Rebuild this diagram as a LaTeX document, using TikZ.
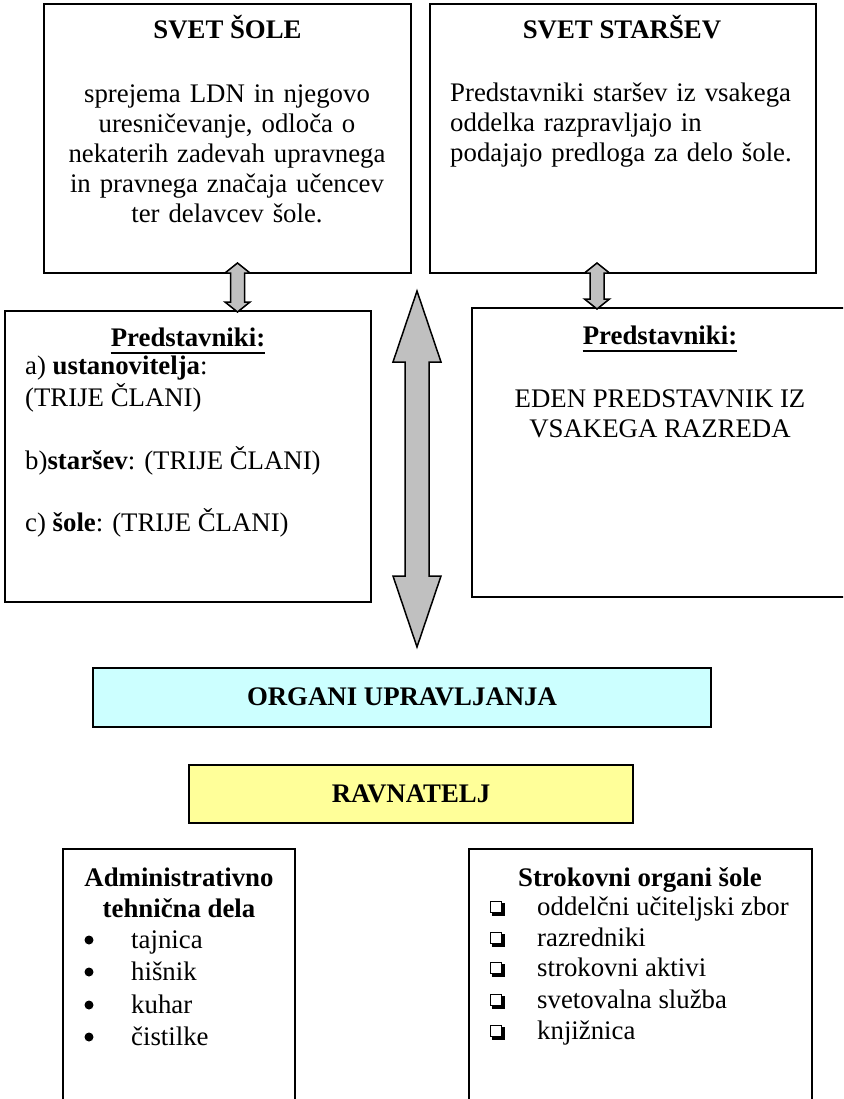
\documentclass[tikz,border=0pt]{standalone}
\usepackage{fontspec}
\setmainfont{Liberation Serif}
\usetikzlibrary{fit,calc}
\definecolor{cyanfill}{HTML}{CCFFFF}
\definecolor{yelfill}{HTML}{FFFF99}
\definecolor{arrgray}{HTML}{C0C0C0}
% vertical double block arrow: #1 top tip, #2 bottom tip, #3 head half-width, #4 shaft half-width, #5 head length
\newcommand\vdarrow[5]{%
  \draw[blockarrow] let \p1=(#1), \p2=(#2) in
    (\x1,\y1) -- (\x1+#3pt,\y1-#5pt) -- (\x1+#4pt,\y1-#5pt) -- (\x1+#4pt,\y2+#5pt)
    -- (\x1+#3pt,\y2+#5pt) -- (\x1,\y2) -- (\x1-#3pt,\y2+#5pt) -- (\x1-#4pt,\y2+#5pt)
    -- (\x1-#4pt,\y1-#5pt) -- (\x1-#3pt,\y1-#5pt) -- cycle;}
\begin{document}
\begin{tikzpicture}[x=1pt,y=-1pt,
  box/.style={draw=black,line width=1.8pt,inner sep=0pt},
  txt/.style={inner sep=0pt,font=\fontsize{26.8}{30}\selectfont},
  btxt/.style={txt,font=\fontsize{26.8}{30}\selectfont\bfseries},
  blockarrow/.style={fill=arrgray,draw=black,line width=1.5pt,line join=miter},
  bul/.style={circle,fill=black,inner sep=0pt,minimum size=9pt},
  chk/.style={rectangle,draw=black,line width=1.2pt,fill=white,inner sep=0pt,minimum size=11pt},
  uline/.style={line width=1.8pt}]
\clip (0,0) rectangle (843,1099);
\fill[white] (0,0) rectangle (843,1099);

% ---- box frames
\coordinate (b1nw) at (44,4);   \coordinate (b1se) at (411,273);
\coordinate (b2nw) at (430,4);  \coordinate (b2se) at (816,273);
\coordinate (lpnw) at (5,311);  \coordinate (lpse) at (371,602);
\coordinate (rpnw) at (472,308); \coordinate (rpse) at (852,597);
\coordinate (ognw) at (93,668); \coordinate (ogse) at (711,727);
\coordinate (rvnw) at (189,765); \coordinate (rvse) at (633,823);
\coordinate (adnw) at (63,849); \coordinate (adse) at (295,1112);
\coordinate (sknw) at (469,849); \coordinate (skse) at (812,1112);

\node[box,fit=(b1nw)(b1se)] (b1) {};
\node[box,fit=(b2nw)(b2se)] (b2) {};
\node[box,fit=(lpnw)(lpse)] (lp) {};
\node[box,fit=(rpnw)(rpse)] (rp) {};
\node[box,fill=cyanfill,fit=(ognw)(ogse)] (og) {};
\node[box,fill=yelfill,fit=(rvnw)(rvse)] (rv) {};
\node[box,fit=(adnw)(adse)] (ad) {};
\node[box,fit=(sknw)(skse)] (sk) {};

% ---- SVET SOLE
\node[btxt,anchor=base] (b1h) at (227.5,39) {SVET ŠOLE};
\node[txt,text width=350pt,align=center,anchor=base] (b1t) at (227,103)
  {sprejema LDN in njegovo\\uresničevanje, odloča o\\nekaterih zadevah upravnega\\in pravnega značaja učencev\\ter delavcev šole.};

% ---- SVET STARSEV
\node[btxt,anchor=base] (b2h) at (622,39) {SVET STARŠEV};
\node[txt,text width=360pt,align=left,anchor=base west] (b2t) at (450,102)
  {Predstavniki staršev iz vsakega\\oddelka razpravljajo in\\podajajo predloga za delo šole.};

% ---- left Predstavniki
\node[btxt,anchor=base] (lph) at (188,346) {Predstavniki:};
\draw[uline] ([yshift=-7pt]lph.base west) -- ([yshift=-7pt]lph.base east);
\node[txt,anchor=base west] (lpa) at (25,374) {a) \textbf{ustanovitelja}:};
\node[txt,anchor=base west] (lpa2) at (25,406) {(TRIJE ČLANI)};
\node[txt,anchor=base west] (lpb) at (25,469) {b)\textbf{staršev}: (TRIJE ČLANI)};
\node[txt,anchor=base west] (lpc) at (25,531) {c) \textbf{šole}: (TRIJE ČLANI)};

% ---- right Predstavniki
\node[btxt,anchor=base] (rph) at (660,344) {Predstavniki:};
\draw[uline] ([yshift=-7pt]rph.base west) -- ([yshift=-7pt]rph.base east);
\node[txt,anchor=base] (rpt1) at (660,407) {EDEN PREDSTAVNIK IZ};
\node[txt,anchor=base] (rpt2) at (660,437) {VSAKEGA RAZREDA};

% ---- ORGANI / RAVNATELJ
\node[btxt,anchor=base] (ogt) at (402,705) {ORGANI UPRAVLJANJA};
\node[btxt,anchor=base] (rvt) at (411,802) {RAVNATELJ};

% ---- Administrativno
\node[btxt,anchor=base] (adh1) at (179,886) {Administrativno};
\node[btxt,anchor=base] (adh2) at (179,917) {tehnična dela};
\foreach \n/\y/\t in {1/948/tajnica,2/980/hišnik,3/1013/kuhar,4/1045/čistilke}{
  \node[bul] (u\n) at (89,\y-8) {};
  \node[txt,anchor=base west] (ut\n) at (131,\y) {\t};
}

% ---- Strokovni organi
\node[btxt,anchor=base] (skh) at (640,886) {Strokovni organi šole};
\foreach \n/\y/\t in {1/915/oddelčni učiteljski zbor,2/946/razredniki,3/976/strokovni aktivi,4/1008/svetovalna služba,5/1039/knjižnica}{
  \node[chk] (k\n) at (496,\y-8) {};
  \draw[line width=2.4pt] ($(k\n.south west)+(2.5,1.2)$) -| ($(k\n.north east)+(1.2,2.5)$);
  \node[txt,anchor=base west] (kt\n) at (537,\y) {\t};
}

% ---- block arrows
\coordinate (a1t) at (237.5,263); \coordinate (a1b) at (237.5,312);
\coordinate (a2t) at (597,263);   \coordinate (a2b) at (597,309);
\coordinate (a3t) at (417,291);   \coordinate (a3b) at (417,647);
\vdarrow{a1t}{a1b}{12.5}{7}{10}
\vdarrow{a2t}{a2b}{12.5}{7}{10}
\vdarrow{a3t}{a3b}{24}{12}{71}
\end{tikzpicture}
\end{document}
